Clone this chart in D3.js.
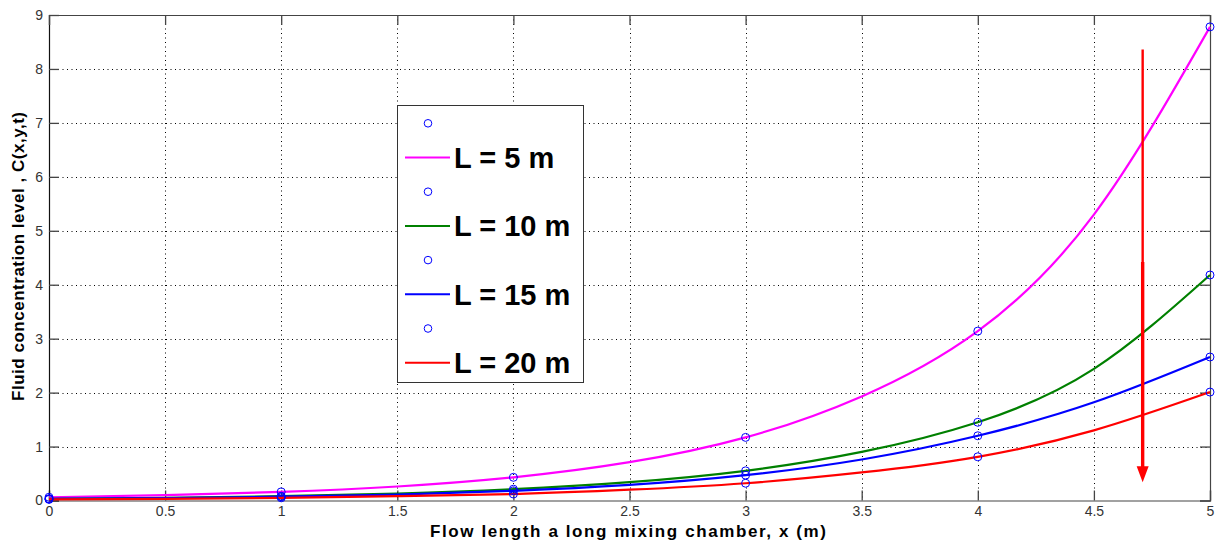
<!DOCTYPE html>
<html><head><meta charset="utf-8">
<script src="https://cdn.jsdelivr.net/npm/d3@7"></script>
<style>
html,body{margin:0;padding:0;background:#fff;}
svg{display:block;}
text{font-family:"Liberation Sans",Arial,Helvetica,sans-serif;}
</style></head>
<body>
<svg id="chart" width="1216" height="542"></svg>
<script>
// ---- data ----
const xs = [0, 0.5, 1, 1.5, 2, 2.5, 3, 3.5, 4, 4.5, 5];
const cL5  = [0.06, 0.10, 0.16, 0.26, 0.43, 0.71, 1.17, 1.93, 3.14, 5.30, 8.78];
const cL10 = [0.03, 0.05, 0.08, 0.13, 0.21, 0.34, 0.55, 0.90, 1.45, 2.44, 4.18];
const cL15 = [0.03, 0.045, 0.07, 0.11, 0.18, 0.29, 0.47, 0.76, 1.20, 1.82, 2.66];
const cL20 = [0.02, 0.03, 0.05, 0.08, 0.12, 0.20, 0.32, 0.52, 0.81, 1.30, 2.01];
const markerX = [0, 1, 2, 3, 4, 5];
const mL5  = [0.06, 0.16, 0.43, 1.17, 3.14, 8.78];
const mL10 = [0.03, 0.08, 0.21, 0.55, 1.45, 4.18];
const mL15 = [0.03, 0.07, 0.18, 0.47, 1.20, 2.66];
const mL20 = [0.02, 0.05, 0.12, 0.32, 0.81, 2.01];
const seriesLabels = ["L = 5 m", "L = 10 m", "L = 15 m", "L = 20 m"];
const seriesColors = ["#ff00ff", "#008000", "#0000ff", "#ff0000"];
const xTicks = [0, 0.5, 1, 1.5, 2, 2.5, 3, 3.5, 4, 4.5, 5];
const yTicks = [0, 1, 2, 3, 4, 5, 6, 7, 8, 9];
const arrowX = 4.71, arrowTop = 8.36, arrowTop2 = 4.42, arrowTip = 0.34;
const xTitle = "Flow length a long mixing chamber, x (m)";
const yTitle = "Fluid concentration level , C(x,y,t)";

// ---- scales ----
const svg = d3.select("#chart");
const x = d3.scaleLinear().domain([0, 5]).range([49, 1210]);
const y = d3.scaleLinear().domain([0, 9]).range([500.5, 15]);

// grid
const grid = svg.append("g");
grid.selectAll("line.vx").data(xTicks.filter(d => d > 0 && d < 5)).join("line")
  .attr("x1", d => Math.round(x(d)) + 0.5).attr("x2", d => Math.round(x(d)) + 0.5)
  .attr("y1", y(9)).attr("y2", y(0))
  .attr("stroke", "#000").attr("stroke-width", 1).attr("stroke-dasharray", "1,3.5");
grid.selectAll("line.hy").data(yTicks.filter(d => d > 0 && d < 9)).join("line")
  .attr("y1", d => Math.round(y(d)) + 0.5).attr("y2", d => Math.round(y(d)) + 0.5)
  .attr("x1", x(0)).attr("x2", x(5))
  .attr("stroke", "#000").attr("stroke-width", 1).attr("stroke-dasharray", "1,3.5");

// axes
const fmt = d3.format("~g");
const axB = svg.append("g").attr("transform", `translate(0,${y(0)})`)
  .call(d3.axisBottom(x).tickValues(xTicks).tickFormat(fmt).tickSize(-10).tickPadding(6));
const axL = svg.append("g").attr("transform", `translate(${x(0)},0)`)
  .call(d3.axisLeft(y).tickValues(yTicks).tickFormat(fmt).tickSize(-10).tickPadding(6));
const axT = svg.append("g").attr("transform", `translate(0,${y(9)})`)
  .call(d3.axisTop(x).tickValues(xTicks).tickFormat("").tickSize(-10));
const axR = svg.append("g").attr("transform", `translate(${x(5)},0)`)
  .call(d3.axisRight(y).tickValues(yTicks).tickFormat("").tickSize(-10));
[axB, axL, axT, axR].forEach(g => {
  g.select(".domain").attr("stroke", "#444").attr("stroke-width", 1.2);
  g.selectAll(".tick line").attr("stroke", "#444").attr("stroke-width", 1.3);
  g.selectAll(".tick text").attr("font-size", 14).attr("fill", "#333")
    .attr("font-family", "'Liberation Sans',Arial,sans-serif");
});
axL.select(".domain").attr("stroke", "#111");

// curves
const allSeries = [cL5, cL10, cL15, cL20];
const allMarkers = [mL5, mL10, mL15, mL20];
const line = d3.line().x(d => x(d[0])).y(d => y(d[1])).curve(d3.curveNatural);
const plot = svg.append("g");
allSeries.forEach((vals, i) => {
  plot.append("path").datum(xs.map((xv, j) => [xv, vals[j]]))
    .attr("d", line).attr("fill", "none")
    .attr("stroke", seriesColors[i]).attr("stroke-width", 2.2);
});
allMarkers.forEach(vals => {
  plot.selectAll(null).data(markerX.map((xv, j) => [xv, vals[j]])).join("circle")
    .attr("cx", d => x(d[0])).attr("cy", d => y(d[1])).attr("r", 4)
    .attr("fill", "none").attr("stroke", "#0000ff").attr("stroke-width", 1);
});

// arrow annotation
const ax = x(arrowX);
svg.append("line").attr("x1", ax).attr("x2", ax)
  .attr("y1", y(arrowTop)).attr("y2", y(arrowTip) - 10)
  .attr("stroke", "#ff0000").attr("stroke-width", 2.4);
svg.append("line").attr("x1", ax).attr("x2", ax)
  .attr("y1", y(arrowTop2)).attr("y2", y(arrowTip) - 10)
  .attr("stroke", "#ff0000").attr("stroke-width", 3.4);
const tipY = y(arrowTip);
svg.append("path")
  .attr("d", `M${ax - 6},${tipY - 16} L${ax + 6},${tipY - 16} L${ax},${tipY} Z`)
  .attr("fill", "#ff0000");

// legend
const lg = svg.append("g");
lg.append("rect").attr("x", 397.5).attr("y", 105.5).attr("width", 186).attr("height", 277)
  .attr("fill", "#fff").attr("stroke", "#333").attr("stroke-width", 1);
const rowY0 = 123.3, rowStep = 34.2;
seriesLabels.forEach((lab, i) => {
  const ym = rowY0 + rowStep * (2 * i);
  const yl = rowY0 + rowStep * (2 * i + 1);
  lg.append("circle").attr("cx", 428).attr("cy", ym).attr("r", 3.8)
    .attr("fill", "none").attr("stroke", "#0000ff").attr("stroke-width", 1);
  lg.append("line").attr("x1", 405).attr("x2", 450).attr("y1", yl).attr("y2", yl)
    .attr("stroke", seriesColors[i]).attr("stroke-width", 2);
  lg.append("text").attr("x", 454).attr("y", yl + 10.5)
    .attr("font-size", 29).attr("font-weight", "bold").attr("fill", "#000")
    .text(lab);
});

// axis titles
svg.append("text").attr("x", 628).attr("y", 537).attr("text-anchor", "middle")
  .attr("font-size", 17).attr("font-weight", "bold").attr("fill", "#000")
  .attr("textLength", 396).attr("lengthAdjust", "spacing")
  .text(xTitle);
svg.append("text").attr("transform", "translate(24,256.5) rotate(-90)")
  .attr("text-anchor", "middle")
  .attr("font-size", 17).attr("font-weight", "bold").attr("fill", "#000")
  .attr("textLength", 289).attr("lengthAdjust", "spacing")
  .text(yTitle);
</script>
</body></html>
